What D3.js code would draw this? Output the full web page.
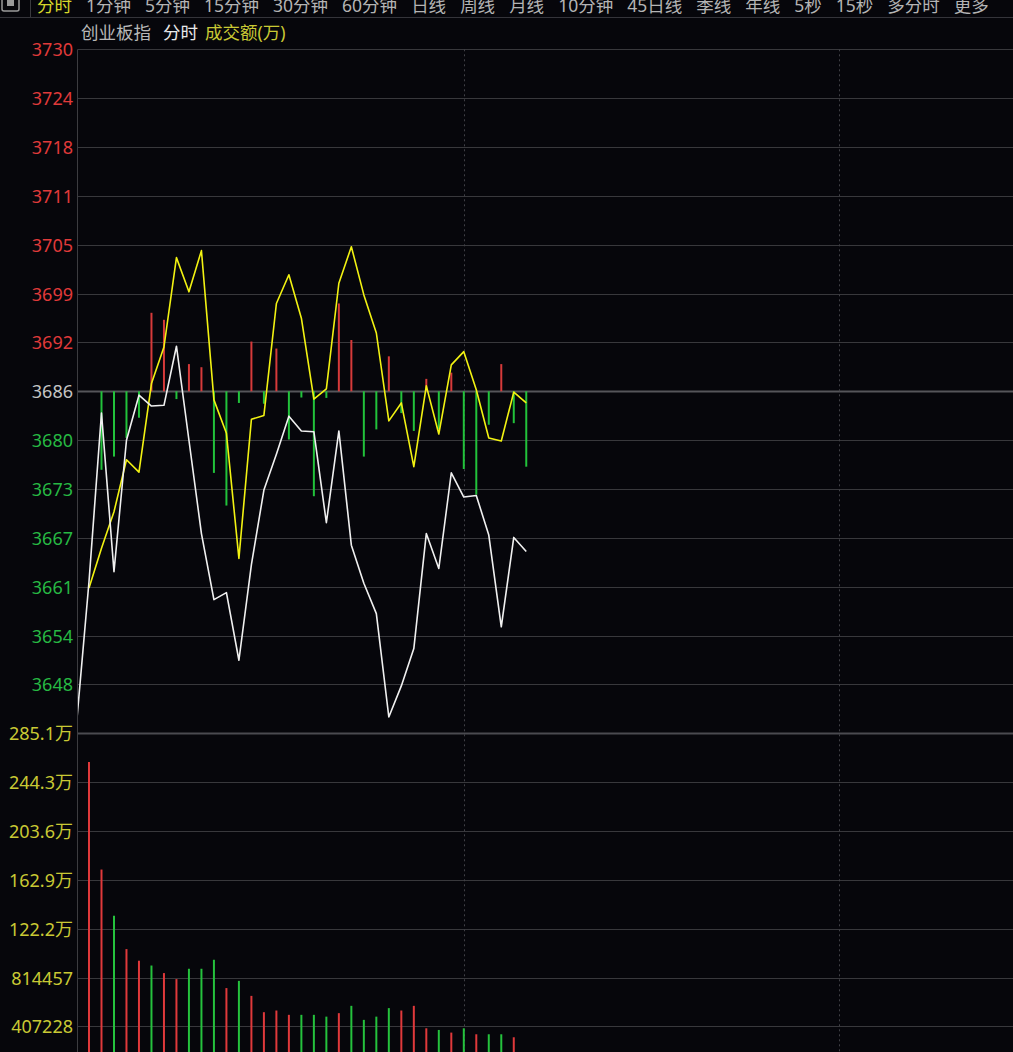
<!DOCTYPE html>
<html>
<head>
<meta charset="utf-8">
<script src="https://cdn.jsdelivr.net/npm/d3@7"></script>
<style>
  body { margin: 0; background: #06060b; }
  svg { display: block; }
  text { font-family: "Noto Sans", "Noto Sans CJK SC", sans-serif; }
</style>
</head>
<body>
<svg id="chart" width="1013" height="1052"></svg>
<script>
// menu along the top, the first one is the active tab
var menuItems = ["分时", "1分钟", "5分钟", "15分钟", "30分钟", "60分钟", "日线", "周线", "月线",
  "10分钟", "45日线", "季线", "年线", "5秒", "15秒", "多分时", "更多"];

// left axis labels
var priceTickLabels = ["3730", "3724", "3718", "3711", "3705", "3699", "3692", "3686",
  "3680", "3673", "3667", "3661", "3654", "3648"];
var volumeTickLabels = ["285.1万", "244.3万", "203.6万", "162.9万", "122.2万", "814457", "407228"];

var prevClose = 3686;
var priceStep = 44 / 7;
var volumeStep = 407228;

// white line (index), one point per minute starting at the open
var indexLine = [3643.2, 3661.5, 3683.2, 3662.8, 3679.7, 3685.5, 3684.1, 3684.2, 3691.8, 3679.7,
  3667.7, 3659.2, 3660.1, 3651.4, 3663.7, 3673.3, 3677.9, 3682.8, 3680.9, 3680.8,
  3669.1, 3680.9, 3666.2, 3661.3, 3657.4, 3644.1, 3648.1, 3652.9, 3667.7, 3663.2,
  3675.5, 3672.4, 3672.6, 3667.5, 3655.7, 3667.2, 3665.4];

// yellow line (average), no value for the first point
var avgLine = [null, 3660.7, 3665.8, 3670.5, 3677.2, 3675.6, 3687.0, 3691.7, 3703.2, 3698.8,
  3704.1, 3684.9, 3680.6, 3664.5, 3682.4, 3682.9, 3697.3, 3701.0, 3695.4, 3685.0,
  3686.3, 3699.9, 3704.6, 3698.4, 3693.5, 3682.2, 3684.5, 3676.3, 3686.7, 3680.5,
  3689.4, 3691.1, 3686.2, 3680.0, 3679.6, 3685.9, 3684.5];

// red / green sticks around the previous close
var strengthBars = [0, 0, -10.1, -8.4, -6.0, -3.4, 10.1, 9.2, -1.0, 3.5,
  3.1, -10.5, -14.7, -1.5, 6.4, -1.6, 5.5, -6.2, -0.8, -13.5,
  -0.85, 11.3, 6.6, -8.4, -4.9, 4.5, -2.8, -5.1, 1.6, -4.9,
  2.4, -10.0, -13.3, -4.3, 3.5, -4.1, -9.7];

// turnover per minute, and whether the bar is red (1) or green (-1)
var volumes = [0, 2611000, 1715000, 1330000, 1052000, 955000, 915000, 852000, 802000, 888000,
  888000, 963000, 727000, 787000, 662000, 526000, 540000, 504000, 504000, 504000,
  489000, 518000, 579000, 462000, 489000, 560000, 540000, 579000, 392000, 378000,
  356000, 392000, 342000, 342000, 342000, 317000, 150000];
var volumeDir = [1, 1, 1, -1, 1, 1, -1, 1, 1, -1,
  -1, -1, 1, -1, 1, 1, 1, 1, -1, -1,
  -1, 1, -1, -1, -1, -1, 1, 1, 1, -1,
  1, -1, 1, -1, -1, 1, -1];

var W = 1013, H = 1052;
var plotLeft = 78, plotTop = 49.3, priceBottom = 733.3;
var RED = "#e0393b", GREEN = "#25c23d", GRID = "#38383c";

var svg = d3.select("#chart");
svg.append("rect").attr("width", W).attr("height", H).attr("fill", "#06060b");

var x = d3.scaleLinear().domain([0, 75]).range([76.5, 1013.5]);
var yPrice = d3.scaleLinear()
  .domain([prevClose - 7 * priceStep, prevClose + 7 * priceStep])
  .range([priceBottom, plotTop]);
var yVol = d3.scaleLinear()
  .domain([0, 7 * volumeStep])
  .range([priceBottom + 7 * (priceBottom - plotTop) / 14, priceBottom]);

svg.append("clipPath").attr("id", "plot")
  .append("rect").attr("x", plotLeft).attr("y", plotTop - 5).attr("width", W - plotLeft).attr("height", H);

// ---- top menu ----
svg.append("path")
  .attr("d", "M2,0 V9 Q2,11 4,11 H17 Q19,11 19,9 V0")
  .attr("fill", "none").attr("stroke", "#9a9a9a").attr("stroke-width", 1.5);
svg.append("rect").attr("x", 7).attr("y", 0).attr("width", 7).attr("height", 6).attr("fill", "#9a9a9a");
svg.append("line").attr("x1", 30.5).attr("x2", 30.5).attr("y1", 0).attr("y2", 17)
  .attr("stroke", "#3a3a3e");
svg.append("line").attr("x1", 0).attr("x2", W).attr("y1", 17.5).attr("y2", 17.5)
  .attr("stroke", "#34343a");

var menuX = 37;
menuItems.forEach(function(d, i) {
  var t = svg.append("text")
    .attr("x", menuX).attr("y", 12)
    .attr("font-size", 17.5)
    .attr("fill", i === 0 ? "#d6d62a" : "#b4b4b4")
    .text(d);
  menuX += t.node().getComputedTextLength() + 14;
});

// ---- title row ----
var title = svg.append("text").attr("x", 81).attr("y", 39).attr("font-size", 17.5);
title.append("tspan").attr("fill", "#b8b8b8").text("创业板指");
title.append("tspan").attr("dx", 12).attr("fill", "#e8e8e8").text("分时");
title.append("tspan").attr("dx", 7).attr("fill", "#c9c934").text("成交额(万)");

// ---- grid ----
var priceLevels = priceTickLabels.map(function(d, i) { return prevClose + (7 - i) * priceStep; });
var volLevels = volumeTickLabels.map(function(d, i) { return (7 - i) * volumeStep; });

svg.append("g").selectAll("line").data(priceLevels).join("line")
  .attr("x1", plotLeft).attr("x2", W)
  .attr("y1", function(d) { return Math.round(yPrice(d)) + 0.5; })
  .attr("y2", function(d) { return Math.round(yPrice(d)) + 0.5; })
  .attr("stroke", function(d, i) { return i === 7 ? "#55555a" : GRID; })
  .attr("stroke-width", function(d, i) { return i === 7 ? 2 : 1; });

svg.append("g").selectAll("line").data(volLevels).join("line")
  .attr("x1", plotLeft).attr("x2", W)
  .attr("y1", function(d) { return Math.round(yVol(d)) + 0.5; })
  .attr("y2", function(d) { return Math.round(yVol(d)) + 0.5; })
  .attr("stroke", function(d, i) { return i === 0 ? "#4a4a50" : GRID; })
  .attr("stroke-width", function(d, i) { return i === 0 ? 2 : 1; });

// dotted half hour markers
svg.append("g").selectAll("line").data([31, 61]).join("line")
  .attr("x1", function(d) { return Math.round(x(d)) + 0.5; })
  .attr("x2", function(d) { return Math.round(x(d)) + 0.5; })
  .attr("y1", plotTop).attr("y2", H)
  .attr("stroke", "#404046").attr("stroke-dasharray", "2,3");

svg.append("line").attr("x1", plotLeft - 0.5).attr("x2", plotLeft - 0.5).attr("y1", plotTop).attr("y2", H)
  .attr("stroke", "#3c3c40");

// ---- axis labels ----
var priceAxis = svg.append("g").attr("transform", "translate(73,0)")
  .call(d3.axisLeft(yPrice).tickValues(priceLevels).tickSize(0)
    .tickFormat(function(d, i) { return priceTickLabels[i]; }));
priceAxis.select(".domain").remove();
priceAxis.selectAll("text")
  .attr("x", 0).attr("dy", "0.36em")
  .attr("font-size", 18).attr("font-family", "Noto Sans, Noto Sans CJK SC")
  .attr("fill", function(d, i) { return i < 7 ? "#e03a3a" : i === 7 ? "#c4c4c4" : "#27b843"; });

var volAxis = svg.append("g").attr("transform", "translate(73,0)")
  .call(d3.axisLeft(yVol).tickValues(volLevels).tickSize(0)
    .tickFormat(function(d, i) { return volumeTickLabels[i]; }));
volAxis.select(".domain").remove();
volAxis.selectAll("text")
  .attr("x", 0).attr("dy", "0.36em")
  .attr("font-size", 18).attr("font-family", "Noto Sans, Noto Sans CJK SC")
  .attr("fill", "#c9c934");

// ---- marks ----
var plot = svg.append("g").attr("clip-path", "url(#plot)");

var sticks = strengthBars.map(function(v, i) { return {i: i, v: v}; })
  .filter(function(d) { return d.v !== 0; });
plot.append("g").selectAll("line").data(sticks).join("line")
  .attr("x1", function(d) { return x(d.i); })
  .attr("x2", function(d) { return x(d.i); })
  .attr("y1", yPrice(prevClose))
  .attr("y2", function(d) { return yPrice(prevClose + d.v); })
  .attr("stroke", function(d) { return d.v > 0 ? "#d63a3a" : "#22c23b"; })
  .attr("stroke-width", 2);

var volBars = volumes.map(function(v, i) { return {i: i, v: v, dir: volumeDir[i]}; })
  .filter(function(d) { return d.v > 0; });
plot.append("g").selectAll("line").data(volBars).join("line")
  .attr("x1", function(d) { return x(d.i); })
  .attr("x2", function(d) { return x(d.i); })
  .attr("y1", yVol(0))
  .attr("y2", function(d) { return yVol(d.v); })
  .attr("stroke", function(d) { return d.dir > 0 ? RED : GREEN; })
  .attr("stroke-width", 2);

var line = d3.line()
  .defined(function(d) { return d != null; })
  .x(function(d, i) { return x(i); })
  .y(function(d) { return yPrice(d); });

plot.append("path").datum(avgLine)
  .attr("d", line).attr("fill", "none")
  .attr("stroke", "#f2f212").attr("stroke-width", 1.6).attr("stroke-linejoin", "round");

plot.append("path").datum(indexLine)
  .attr("d", line).attr("fill", "none")
  .attr("stroke", "#f0f0f0").attr("stroke-width", 1.6).attr("stroke-linejoin", "round");
</script>
</body>
</html>
